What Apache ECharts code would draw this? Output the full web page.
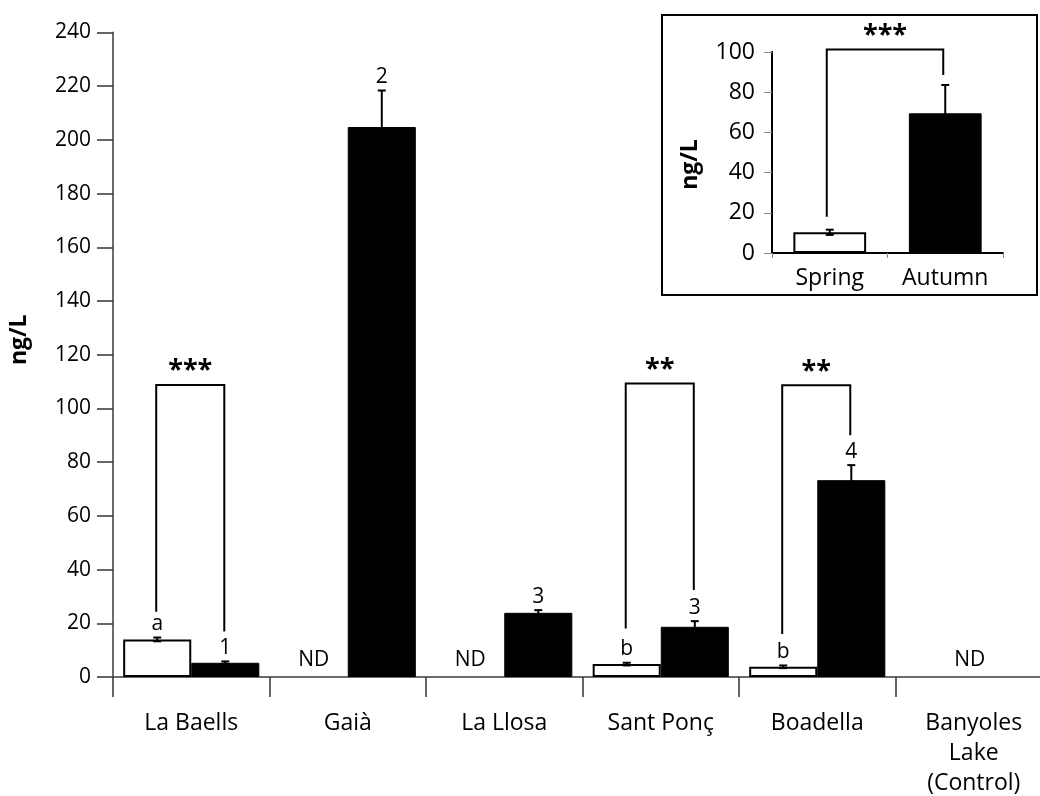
<!DOCTYPE html>
<html>
<head>
<meta charset="utf-8">
<script src="https://cdn.jsdelivr.net/npm/echarts@6/dist/echarts.min.js"></script>
<style>html,body{margin:0;padding:0;background:#fff}#c{width:1040px;height:796px}</style>
</head>
<body>
<div id="c"></div>
<script>
// ---- data ----
const categories = ['La Baells', 'Gaià', 'La Llosa', 'Sant Ponç', 'Boadella', 'Banyoles\nLake\n(Control)'];
const springValues = [14.0, null, null, 4.8, 3.8, null];
const springErrors = [0.7, null, null, 0.5, 0.5, null];
const springLetters = ['a', '', '', 'b', 'b', ''];
const autumnValues = [5.3, 204.8, 23.9, 18.7, 73.3, null];
const autumnErrors = [0.5, 13.6, 1.0, 2.1, 5.6, null];
const autumnLetters = ['1', '2', '3', '3', '4', ''];
const yTicks = [0, 20, 40, 60, 80, 100, 120, 140, 160, 180, 200, 220, 240];
// brackets: [categoryIndex, topValue, leftLegEnd, rightLegEnd, stars]
const brackets = [
  [0, 108.7, 24.3, 16.9, '***'],
  [3, 109.3, 18.1, 32.4, '**'],
  [4, 108.6, 16.0, 90.0, '**']
];
// inset
const insetCategories = ['Spring', 'Autumn'];
const insetValues = [10.3, 69.5];
const insetErrors = [1.3, 14.1];
const insetTicks = [0, 20, 40, 60, 80, 100];
const insetBracket = [0, 1, 101.3, 18.0, 88.5, '***'];

const FONT = '"Open Sans", "Noto Sans", sans-serif';
const BAR_FRAC = 0.435;
const OFF = BAR_FRAC / 2;

const chart = echarts.init(document.getElementById('c'), null, {renderer: 'canvas'});

function errBarItem(x, yTop, yBot, label) {
  const ch = [
    {type: 'line', shape: {x1: x, y1: yBot, x2: x, y2: yTop}, style: {stroke: '#000', lineWidth: 2}},
    {type: 'line', shape: {x1: x - 4, y1: yTop, x2: x + 4, y2: yTop}, style: {stroke: '#000', lineWidth: 2}},
    {type: 'line', shape: {x1: x - 4, y1: yBot, x2: x + 4, y2: yBot}, style: {stroke: '#000', lineWidth: 2}}
  ];
  if (label) {
    ch.push({type: 'text', style: {x: x, y: yTop - 3, text: label, fill: '#000', font: '21px ' + FONT, align: 'center', verticalAlign: 'bottom'}});
  }
  return ch;
}

function makeErr(values, errors, letters, sign) {
  return function (params, api) {
    const i = params.dataIndex;
    if (values[i] == null) return null;
    const bw = api.size([1, 0])[0];
    const e = errors[i] || 0;
    const pt = api.coord([i, values[i] + e]);
    const pb = api.coord([i, Math.max(0, values[i] - e)]);
    const x = pt[0] + sign * OFF * bw;
    return {type: 'group', children: errBarItem(x, pt[1], pb[1], letters[i])};
  };
}

const seriesList = [
  {
    type: 'bar', name: 'Spring', xAxisIndex: 0, yAxisIndex: 0,
    data: springValues.map(v => v == null ? '-' : v),
    barWidth: (BAR_FRAC * 100) + '%', barGap: '0%',
    itemStyle: {color: '#fff', borderColor: '#000', borderWidth: 2},
    silent: true, z: 2
  },
  {
    type: 'bar', name: 'Autumn', xAxisIndex: 0, yAxisIndex: 0,
    data: autumnValues.map(v => v == null ? '-' : v),
    barWidth: (BAR_FRAC * 100) + '%', barGap: '0%',
    itemStyle: {color: '#000', borderColor: '#000', borderWidth: 1},
    silent: true, z: 2
  },
  {
    type: 'custom', xAxisIndex: 0, yAxisIndex: 0, z: 5, silent: true,
    data: categories.map((c, i) => [i, 0]),
    renderItem: makeErr(springValues, springErrors, springLetters, -1)
  },
  {
    type: 'custom', xAxisIndex: 0, yAxisIndex: 0, z: 5, silent: true,
    data: categories.map((c, i) => [i, 0]),
    renderItem: makeErr(autumnValues, autumnErrors, autumnLetters, 1)
  },
  {
    // ND labels
    type: 'custom', xAxisIndex: 0, yAxisIndex: 0, z: 5, silent: true,
    data: categories.map((c, i) => [i, 0]),
    renderItem: function (params, api) {
      const i = params.dataIndex;
      const bw = api.size([1, 0])[0];
      const p = api.coord([i, 0]);
      let x;
      if (springValues[i] == null && autumnValues[i] == null) x = p[0] - 4;
      else if (springValues[i] == null) x = p[0] - OFF * bw;
      else return null;
      return {type: 'text', style: {x: x, y: p[1] - 17, text: 'ND', fill: '#000', font: '21px ' + FONT, align: 'center', verticalAlign: 'middle'}};
    }
  },
  {
    // significance brackets
    type: 'custom', xAxisIndex: 0, yAxisIndex: 0, z: 6, silent: true,
    data: brackets.map(b => [b[0], b[1]]),
    renderItem: function (params, api) {
      const b = brackets[params.dataIndex];
      const bw = api.size([1, 0])[0];
      const pTop = api.coord([b[0], b[1]]);
      const lx = pTop[0] - OFF * bw - 1;
      const rx = pTop[0] + OFF * bw - 1;
      const ly = api.coord([b[0], b[2]])[1];
      const ry = api.coord([b[0], b[3]])[1];
      return {type: 'group', children: [
        {type: 'polyline', shape: {points: [[lx, ly], [lx, pTop[1]], [rx, pTop[1]], [rx, ry]]}, style: {stroke: '#000', lineWidth: 2, fill: null}},
        {type: 'text', style: {x: (lx + rx) / 2, y: pTop[1] - 1, text: b[4], fill: '#000', font: 'bold 27px ' + FONT, align: 'center', verticalAlign: 'bottom'}}
      ]};
    }
  },
  // ---- inset ----
  {
    type: 'bar', xAxisIndex: 1, yAxisIndex: 1, silent: true, barWidth: '63%',
    data: insetValues.map((v, i) => ({value: v, itemStyle: i === 0 ? {color: '#fff', borderColor: '#000', borderWidth: 2} : {color: '#000', borderColor: '#000', borderWidth: 1}}))
  },
  {
    type: 'custom', xAxisIndex: 1, yAxisIndex: 1, z: 5, silent: true,
    data: insetCategories.map((c, i) => [i, 0]),
    renderItem: function (params, api) {
      const i = params.dataIndex;
      const pt = api.coord([i, insetValues[i] + insetErrors[i]]);
      const pb = api.coord([i, insetValues[i] - insetErrors[i]]);
      return {type: 'group', children: errBarItem(pt[0], pt[1], pb[1], '')};
    }
  },
  {
    type: 'custom', xAxisIndex: 1, yAxisIndex: 1, z: 6, silent: true,
    data: [[0, insetBracket[2]]],
    renderItem: function (params, api) {
      const b = insetBracket;
      const pl = api.coord([b[0], b[2]]);
      const pr = api.coord([b[1], b[2]]);
      const lx = pl[0] - 3, rx = pr[0] - 2;
      const ly = api.coord([b[0], b[3]])[1];
      const ry = api.coord([b[1], b[4]])[1];
      return {type: 'group', children: [
        {type: 'polyline', shape: {points: [[lx, ly], [lx, pl[1]], [rx, pl[1]], [rx, ry]]}, style: {stroke: '#000', lineWidth: 2, fill: null}},
        {type: 'text', style: {x: (lx + rx) / 2, y: pl[1] - 1, text: b[5], fill: '#000', font: 'bold 27px ' + FONT, align: 'center', verticalAlign: 'bottom'}}
      ]};
    }
  }
];

chart.setOption({
  animation: false,
  backgroundColor: '#fff',
  textStyle: {fontFamily: FONT},
  grid: [
    {left: 113, right: -12, top: 32.5, bottom: 119, outerBoundsMode: 'none', containLabel: false},
    {left: 772, width: 231, top: 52, height: 201, outerBoundsMode: 'none', containLabel: false}
  ],
  graphic: [
    {type: 'rect', shape: {x: 662, y: 15, width: 375, height: 280}, style: {fill: '#fff', stroke: '#000', lineWidth: 2}, z: -1, silent: true}
  ],
  xAxis: [
    {
      type: 'category', gridIndex: 0, data: categories,
      axisLine: {lineStyle: {color: '#6b6b6b', width: 2}},
      axisTick: {show: true, length: 20, lineStyle: {color: '#333', width: 1.5}},
      axisLabel: {color: '#000', fontSize: 23, margin: 31, lineHeight: 30, fontFamily: FONT, interval: 0},
      splitLine: {show: false}
    },
    {
      type: 'category', gridIndex: 1, data: insetCategories,
      axisLine: {lineStyle: {color: '#000', width: 2}},
      axisTick: {show: true, length: 5, lineStyle: {color: '#888', width: 1}},
      axisLabel: {color: '#000', fontSize: 23, margin: 14, fontFamily: FONT},
      splitLine: {show: false}
    }
  ],
  yAxis: [
    {
      type: 'value', gridIndex: 0, min: yTicks[0], max: yTicks[yTicks.length - 1], interval: 20,
      name: 'ng/L', nameLocation: 'middle', nameGap: 82, nameRotate: 90,
      nameTextStyle: {color: '#000', fontSize: 23, fontWeight: 'bold', fontFamily: FONT, padding: [0, 0, 0, 30]},
      axisLine: {show: true, lineStyle: {color: '#6b6b6b', width: 2}},
      axisTick: {show: true, length: 16, lineStyle: {color: '#333', width: 1.5}},
      axisLabel: {color: '#000', fontSize: 21, margin: 22, fontFamily: FONT},
      splitLine: {show: false}
    },
    {
      type: 'value', gridIndex: 1, min: insetTicks[0], max: insetTicks[insetTicks.length - 1], interval: 20,
      name: 'ng/L', nameLocation: 'middle', nameGap: 70, nameRotate: 90,
      nameTextStyle: {color: '#000', fontSize: 23, fontWeight: 'bold', fontFamily: FONT, padding: [0, 24, 0, 0]},
      axisLine: {show: true, lineStyle: {color: '#000', width: 2}},
      axisTick: {show: true, length: 8, lineStyle: {color: '#888', width: 1}},
      axisLabel: {color: '#000', fontSize: 23, margin: 17, fontFamily: FONT},
      splitLine: {show: false}
    }
  ],
  series: seriesList
});
</script>
</body>
</html>
